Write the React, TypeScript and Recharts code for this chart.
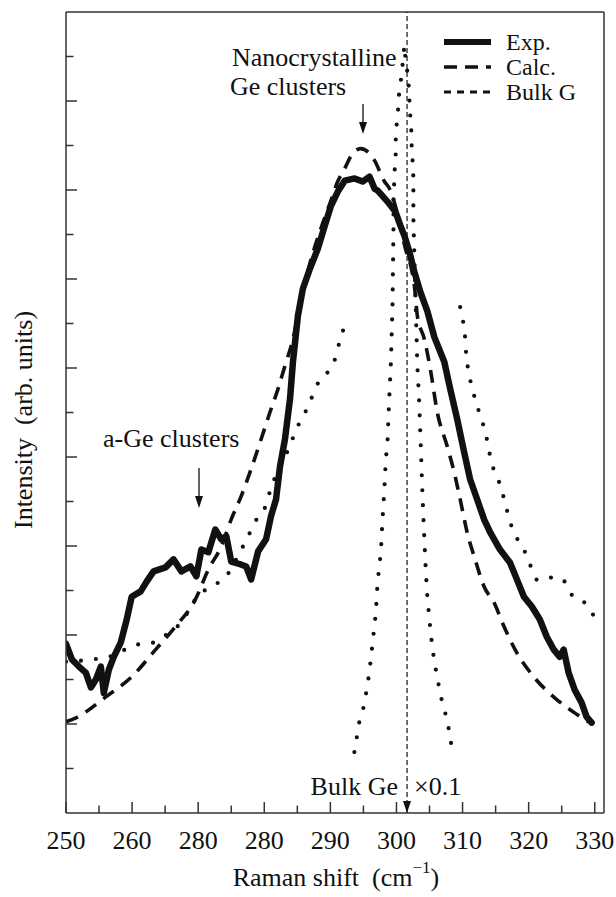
import React from 'react';
import { LineChart, Line, XAxis, YAxis, ReferenceLine } from 'recharts';

const FONT = 'Liberation Serif, Tinos, DejaVu Serif, Times New Roman, serif';
const INK = '#111';

// ---- axes ----
const xMin = 250;
const xMax = 331.4;
const yMin = 0;
const yMax = 18;
const xMajorTicks = [250, 260, 270, 280, 290, 300, 310, 320, 330];
const xMajorLabels = ['250', '260', '280', '280', '290', '300', '310', '320', '330'];
const xMinorTicks = [255, 265, 275, 285, 295, 305, 315, 325];
const yTicks = [1, 2, 3, 4, 5, 6, 7, 8, 9, 10, 11, 12, 13, 14, 15, 16, 17];
const bulkPeakX = 301.6;

// ---- Exp. (thick solid) ----
const expX = [
  250.0, 250.9, 251.96, 253.01, 253.77, 254.52, 255.27, 255.72, 256.48, 257.23,
  258.28, 259.19, 259.94, 261.3, 262.2, 263.25, 265.06, 266.27, 267.47, 268.83,
  269.73, 270.48, 271.54, 272.59, 273.49, 274.25, 275.0, 276.36, 277.26, 278.01,
  279.07, 280.27, 281.02, 281.78, 282.38, 283.13, 283.89, 284.34, 285.09, 285.84,
  286.9, 288.1, 289.16, 290.06, 291.11, 292.17, 293.67, 294.88, 295.93, 296.69,
  297.14, 298.64, 299.85, 300.6, 301.2, 301.96, 302.71, 303.61, 304.67, 305.72,
  307.23, 308.13, 309.19, 310.24, 311.14, 312.2, 313.25, 314.16, 315.66, 317.17,
  318.22, 319.28, 320.48, 321.69, 322.74, 323.8, 324.7, 325.3, 326.05, 326.96,
  328.01, 328.77, 329.52,
];
const expY = [
  3.8, 3.45, 3.29, 3.15, 2.82, 3.0, 3.29, 2.7, 3.22, 3.51,
  3.83, 4.35, 4.86, 4.98, 5.2, 5.43, 5.52, 5.7, 5.43, 5.54,
  5.32, 5.92, 5.86, 6.37, 6.15, 6.22, 5.65, 5.59, 5.54, 5.25,
  5.88, 6.15, 6.67, 7.05, 7.79, 8.4, 9.3, 10.14, 11.17, 11.78,
  12.23, 12.68, 13.2, 13.63, 13.96, 14.21, 14.26, 14.19, 14.3, 14.03,
  13.99, 13.74, 13.51, 13.2, 12.97, 12.61, 12.16, 11.71, 11.28, 10.7,
  10.14, 9.53, 8.85, 8.11, 7.5, 7.05, 6.6, 6.31, 5.92, 5.63,
  5.25, 4.86, 4.64, 4.35, 3.96, 3.67, 3.51, 3.67, 3.15, 2.77,
  2.48, 2.16, 2.03,
];

// ---- Calc. (dashed) ----
const calcX = [
  250.0, 251.51, 256.02, 259.94, 263.55, 266.57, 269.58, 271.54, 273.49, 275.0,
  276.51, 278.01, 279.52, 280.87, 282.08, 283.13, 284.34, 285.5, 286.9, 288.55,
  289.91, 291.11, 292.17, 293.07, 294.58, 295.93, 296.69, 298.19, 298.95, 300.15,
  301.36, 302.26, 302.71, 303.16, 304.22, 305.12, 306.17, 307.68, 308.73, 309.64,
  310.69, 311.9, 313.25, 314.76, 316.27, 318.22, 320.78, 324.25, 326.96, 329.07,
];
const calcY = [
  2.05, 2.14, 2.61, 3.06, 3.67, 4.19, 4.8, 5.47, 5.99, 6.6,
  7.12, 7.73, 8.4, 9.01, 9.53, 10.05, 10.65, 11.5, 12.35, 13.13,
  13.69, 14.19, 14.48, 14.75, 14.93, 14.82, 14.66, 14.19, 14.03, 13.47,
  12.68, 12.23, 11.85, 11.17, 10.65, 9.98, 9.01, 8.24, 7.66, 7.05,
  6.31, 5.7, 5.09, 4.73, 4.19, 3.6, 3.06, 2.55, 2.25, 2.05,
];

// ---- Bulk Ge x0.1 (dotted, narrow) ----
const bulkX = [
  293.63, 294.38, 295.13, 295.89, 296.39, 296.88, 297.14, 297.64, 297.89, 298.14,
  298.39, 298.64, 298.9, 299.14, 299.4, 299.55, 299.55, 299.65, 299.74, 299.89,
  299.89, 300.05, 300.26, 300.41, 300.75, 301.2, 301.4, 301.76, 301.91, 302.0,
  302.15, 302.3, 302.3, 302.52, 302.56, 302.56, 302.56, 302.67, 302.91, 303.16,
  303.42, 303.66, 303.92, 304.17, 304.41, 304.67, 305.17, 305.68, 306.43, 306.93,
  307.68, 308.43,
];
const bulkY = [
  1.37, 2.05, 2.43, 3.15, 3.83, 4.5, 5.18, 5.86, 6.6, 7.2,
  7.95, 8.33, 9.3, 10.05, 11.4, 13.13, 13.81, 14.14, 14.48, 14.82,
  15.16, 15.5, 15.83, 16.21, 16.55, 17.25, 16.89, 16.55, 16.21, 15.87,
  15.53, 15.2, 14.86, 14.53, 14.19, 13.81, 13.36, 12.75, 11.4, 10.05,
  9.3, 8.33, 7.21, 6.31, 5.54, 4.86, 4.05, 3.45, 2.84, 2.48,
  2.09, 1.42,
];

// ---- broad dotted curve, left and right parts ----
const broadLeftX = [
  250.0, 253.92, 256.48, 260.69, 263.25, 265.21, 266.72, 268.22, 269.58, 271.84,
  274.1, 275.75, 277.56, 278.77, 280.12, 280.87, 282.83, 283.89, 284.64, 285.84,
  286.9, 287.8, 289.61, 290.81, 291.42, 292.17,
];
const broadLeftY = [
  3.4, 3.45, 3.51, 3.78, 3.83, 4.01, 4.17, 4.46, 4.8, 5.09,
  5.29, 5.7, 6.22, 6.58, 6.87, 7.23, 7.95, 8.24, 8.56, 8.9,
  9.23, 9.57, 9.91, 10.25, 10.61, 10.95,
];
const broadRightX = [
  309.64, 310.09, 310.39, 310.54, 310.84, 311.3, 311.9, 312.65, 313.4, 313.86,
  314.31, 315.21, 315.96, 316.57, 317.17, 318.07, 319.28, 320.18, 321.39, 323.04,
  325.0, 326.36, 328.31, 329.82,
];
const broadRightY = [
  11.37, 11.04, 10.68, 10.32, 9.98, 9.64, 9.3, 8.94, 8.58, 8.27,
  7.91, 7.57, 7.23, 6.89, 6.55, 6.22, 5.92, 5.59, 5.23, 5.29,
  5.27, 4.93, 4.75, 4.44,
];

const rows = (xs: number[], ys: number[]) => xs.map((x, i) => ({ x, y: ys[i] }));
const expData = rows(expX, expY);
const calcData = rows(calcX, calcY);
const bulkData = rows(bulkX, bulkY);
const broadLeftData = rows(broadLeftX, broadLeftY);
const broadRightData = rows(broadRightX, broadRightY);

const XTick = (props: any) => {
  const { x, y, payload } = props;
  const i = xMajorTicks.indexOf(payload.value);
  const major = i >= 0;
  return (
    <g>
      <line x1={x} y1={y} x2={x} y2={y - (major ? 11 : 7.5)} stroke="#333" strokeWidth={1.5} />
      {major && (
        <text x={x} y={y + 36} textAnchor="middle" style={{ fontFamily: FONT, fontSize: 26 }} fill={INK}>
          {xMajorLabels[i]}
        </text>
      )}
    </g>
  );
};

const YTick = (props: any) => {
  const { x, y, payload } = props;
  const len = payload.value % 2 === 0 ? 11 : 7.5;
  return <line x1={x} y1={y} x2={x + len} y2={y} stroke="#333" strokeWidth={1.5} />;
};

const t26: React.CSSProperties = { fontFamily: FONT, fontSize: 26, whiteSpace: 'pre' };
const tLeg: React.CSSProperties = { fontFamily: FONT, fontSize: 24, whiteSpace: 'pre' };

export default function App() {
  return (
    <div style={{ position: 'absolute', left: 0, top: 0, width: 616, height: 897, background: '#fff' }}>
      <LineChart width={616} height={897} margin={{ top: 12, right: 12, left: 0, bottom: 0 }}>
        <XAxis
          dataKey="x"
          type="number"
          domain={[xMin, xMax]}
          ticks={[...xMajorTicks, ...xMinorTicks].sort((a, b) => a - b)}
          interval={0}
          height={84}
          tickLine={false}
          tickSize={0}
          tickMargin={0}
          tick={<XTick />}
          axisLine={{ stroke: '#333', strokeWidth: 1.5 }}
          allowDataOverflow
        />
        <YAxis
          type="number"
          domain={[yMin, yMax]}
          ticks={yTicks}
          interval={0}
          width={66}
          tickLine={false}
          tickSize={0}
          tickMargin={0}
          tick={<YTick />}
          axisLine={{ stroke: '#333', strokeWidth: 1.5 }}
          allowDataOverflow
        />
        <ReferenceLine y={yMax} stroke="#333" strokeWidth={1.5} />
        <ReferenceLine x={xMax} stroke="#333" strokeWidth={1.5} />
        <ReferenceLine x={bulkPeakX} stroke={INK} strokeWidth={1.2} strokeDasharray="5 3" />
        <Line data={broadLeftData} dataKey="y" type="monotone" stroke={INK} strokeWidth={4.2}
          strokeLinecap="round" strokeDasharray="0 15" dot={false} isAnimationActive={false} />
        <Line data={broadRightData} dataKey="y" type="monotone" stroke={INK} strokeWidth={4.2}
          strokeLinecap="round" strokeDasharray="0 15" dot={false} isAnimationActive={false} />
        <Line data={bulkData} dataKey="y" type="linear" stroke={INK} strokeWidth={4.2}
          strokeLinecap="round" strokeDasharray="0 15" dot={false} isAnimationActive={false} />
        <Line data={calcData} dataKey="y" type="monotone" stroke={INK} strokeWidth={3.6}
          strokeDasharray="13 9" dot={false} isAnimationActive={false} />
        <Line data={expData} dataKey="y" type="linear" stroke={INK} strokeWidth={6.5}
          strokeLinejoin="round" strokeLinecap="round" dot={false} isAnimationActive={false} />
      </LineChart>
      <svg width={616} height={897} style={{ position: 'absolute', left: 0, top: 0, pointerEvents: 'none' }} fill={INK}>
        {/* legend */}
        <line x1={444} y1={42} x2={491} y2={42} stroke={INK} strokeWidth={6} />
        <line x1={444} y1={67} x2={491} y2={67} stroke={INK} strokeWidth={3.6} strokeDasharray="13 8" />
        <line x1={444} y1={92} x2={491} y2={92} stroke={INK} strokeWidth={3} strokeDasharray="7 6" />
        <text x={506} y={50} style={tLeg}>Exp.</text>
        <text x={506} y={75} style={tLeg}>Calc.</text>
        <text x={506} y={100} style={tLeg}>Bulk G</text>
        {/* annotations */}
        <text x={232} y={66} style={t26}>Nanocrystalline</text>
        <text x={230} y={95} style={t26}>Ge clusters</text>
        <line x1={363} y1={104} x2={363} y2={124} stroke={INK} strokeWidth={1.3} />
        <polygon points="359,122 367,122 363,134" fill={INK} />
        <text x={103} y={447} style={t26}>a-Ge clusters</text>
        <line x1={199} y1={468} x2={199} y2={498} stroke={INK} strokeWidth={1.3} />
        <polygon points="195,496 203,496 199,508" fill={INK} />
        <text x={398} y={795} textAnchor="end" style={t26}>Bulk Ge</text>
        <text x={414} y={795} style={t26}>×0.1</text>
        <polygon points="403,801 411,801 407,813" fill={INK} />
        {/* axis titles */}
        <text x={336} y={886} textAnchor="middle" style={t26}>
          Raman shift  (cm<tspan style={{ fontSize: 17 }} dy={-13}>−1</tspan><tspan dy={13}>)</tspan>
        </text>
        <text x={0} y={0} textAnchor="middle" style={t26} transform="translate(32,420) rotate(-90)">
          Intensity  (arb. units)
        </text>
      </svg>
    </div>
  );
}
